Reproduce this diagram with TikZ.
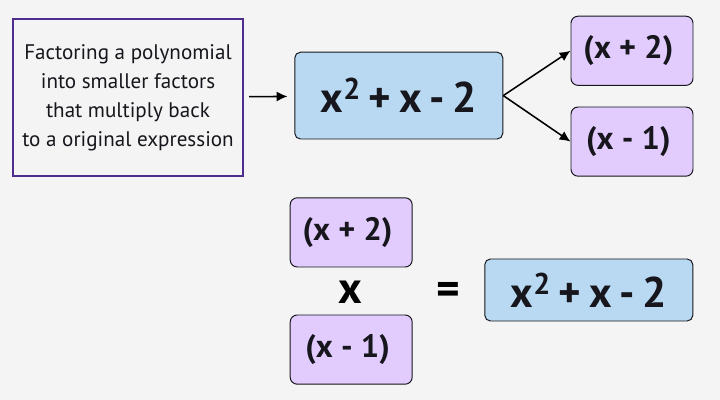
\documentclass[tikz,border=0pt]{standalone}
\usepackage{fontspec}
\usetikzlibrary{arrows.meta}
\setmainfont{PT Sans}
\definecolor{pagebg}{HTML}{F4F4F4}
\definecolor{bluefill}{HTML}{B8D9F1}
\definecolor{purplefill}{HTML}{E1CCFD}
\definecolor{purpleline}{HTML}{4F2D8F}
\definecolor{textcol}{HTML}{16161C}
\tikzset{
	termbox/.style={draw=textcol,line width=0.7pt,rounded corners=5pt,fill=purplefill,text=textcol,minimum width=3.05cm,minimum height=1.73cm,font=\fontsize{23}{28}\selectfont\bfseries,execute at end node={\hspace{0.18cm}}},
	polybox/.style={draw=textcol,line width=0.7pt,rounded corners=4pt,fill=bluefill,text=textcol,font=\fontsize{30.5}{36}\selectfont\bfseries},
	notebox/.style={draw=purpleline,line width=1.2pt,fill=pagebg,text=textcol,minimum width=5.75cm,minimum height=3.92cm,align=center,font=\fontsize{15}{20.6}\selectfont},
	mathsign/.style={text=black,font=\fontsize{32}{38}\selectfont\bfseries},
	link/.style={-{Latex[length=0.27cm,width=0.25cm]},line width=1.1pt,color=black}
}
\newcommand{\polytext}{x\textsuperscript{2}\hspace{0.18em}+\hspace{0.18em}x\hspace{0.18em}-\hspace{0.18em}2}
\begin{document}
\begin{tikzpicture}
	\fill[pagebg] (0,0) rectangle (18,-10);
	\useasboundingbox (0,0) rectangle (18,-10);

	\node[notebox] (note) at (3.2,-2.44) {Factoring a polynomial\\into smaller factors\\that multiply back\\to a original expression};
	\node[polybox,minimum width=5.2cm,minimum height=2.17cm] (poly) at (9.97,-2.39) {\polytext};
	\node[termbox] (plus) at (15.8,-1.27) {(x + 2)};
	\node[termbox] (minus) at (15.8,-3.54) {(x - 1)};

	\draw[link,shorten <=0.13cm,shorten >=0.17cm] (note) -- (poly);
	\draw[link] (poly.east) -- (plus.west);
	\draw[link] (poly.east) -- (minus.west);

	\node[termbox] (plusb) at (8.78,-5.81) {(x + 2)};
	\node[termbox] (minusb) at (8.78,-8.74) {(x - 1)};
	\node[mathsign] (times) at (8.75,-7.3) {x};
	\node[mathsign] (equals) at (11.22,-7.34) {=};
	\node[polybox,minimum width=5.2cm,minimum height=1.55cm] (polyb) at (14.72,-7.25) {\polytext};
\end{tikzpicture}
\end{document}
